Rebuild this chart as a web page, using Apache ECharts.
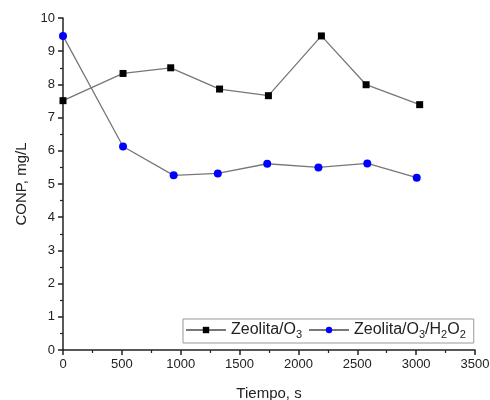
<!DOCTYPE html>
<html>
<head>
<meta charset="utf-8">
<script src="https://cdn.jsdelivr.net/npm/echarts@6/dist/echarts.min.js"></script>
<style>
  html, body { margin: 0; padding: 0; background: #fff; }
  #chart { width: 490px; height: 400px; }
</style>
</head>
<body>
<div id="chart"></div>
<script>
// datos
const tiempoO3 = [0, 510, 915, 1330, 1745, 2195, 2575, 3030]
const conpO3 = [7.51, 8.33, 8.50, 7.86, 7.66, 9.46, 7.99, 7.39]
const tiempoH2O2 = [0, 510, 940, 1315, 1735, 2170, 2585, 3005]
const conpH2O2 = [9.46, 6.13, 5.26, 5.32, 5.61, 5.50, 5.62, 5.19]
const seriesNames = ['Zeolita/O3', 'Zeolita/O3/H2O2']

const chart = echarts.init(document.getElementById('chart'))
const font = 'Liberation Sans, Arial, sans-serif'
const axisColor = '#222'

const pair = (xs, ys) => xs.map((x, i) => [x, ys[i]])

const options = {
  animation: false,
  textStyle: { fontFamily: font, color: '#222' },
  grid: { left: 63, right: 15, top: 18, bottom: 50, outerBoundsMode: 'none', containLabel: false },
  legend: {
    left: 183,
    top: 319,
    itemGap: 6,
    itemWidth: 40,
    itemHeight: 8,
    padding: [3, 8, 3, 2],
    borderColor: '#999',
    borderWidth: 1,
    formatter (name) {
      if (name === seriesNames[0]) return '{t|Zeolita/O}{s|3}'
      return '{t|Zeolita/O}{s|3}{t|/H}{s|2}{t|O}{s|2}'
    },
    textStyle: {
      fontFamily: font,
      color: '#222',
      rich: {
        t: { fontSize: 16, fontFamily: font, color: '#222' },
        s: { fontSize: 11, fontFamily: font, color: '#222', padding: [9, 0, 0, 0] }
      }
    }
  },
  xAxis: {
    type: 'value',
    min: 0,
    max: 3500,
    interval: 500,
    name: 'Tiempo, s',
    nameLocation: 'middle',
    nameGap: 36,
    nameTextStyle: { fontSize: 15, fontFamily: font, color: '#222' },
    axisLine: { show: true, lineStyle: { color: axisColor, width: 1.5 } },
    axisTick: { show: true, length: 5, lineStyle: { color: axisColor, width: 1.5 } },
    minorTick: { show: true, splitNumber: 2, length: 3, lineStyle: { color: axisColor, width: 1.2 } },
    axisLabel: { fontSize: 13, color: '#222', margin: 8, formatter: v => String(v) },
    splitLine: { show: false }
  },
  yAxis: {
    type: 'value',
    min: 0,
    max: 10,
    interval: 1,
    name: 'CONP, mg/L',
    nameLocation: 'middle',
    nameGap: 34,
    nameTextStyle: { fontSize: 15, fontFamily: font, color: '#222' },
    axisLine: { show: true, lineStyle: { color: axisColor, width: 1.5 } },
    axisTick: { show: true, length: 5, lineStyle: { color: axisColor, width: 1.5 } },
    minorTick: { show: true, splitNumber: 2, length: 3, lineStyle: { color: axisColor, width: 1.2 } },
    axisLabel: { fontSize: 13, color: '#222', margin: 8 },
    splitLine: { show: false }
  },
  series: [
    {
      name: seriesNames[0],
      type: 'line',
      data: pair(tiempoO3, conpO3),
      symbol: 'rect',
      symbolSize: 7,
      itemStyle: { color: '#000' },
      lineStyle: { color: '#777', width: 1.3 }
    },
    {
      name: seriesNames[1],
      type: 'line',
      data: pair(tiempoH2O2, conpH2O2),
      symbol: 'circle',
      symbolSize: 8,
      itemStyle: { color: '#0000ff' },
      lineStyle: { color: '#777', width: 1.3 }
    }
  ]
}
chart.setOption(options)
</script>
</body>
</html>
